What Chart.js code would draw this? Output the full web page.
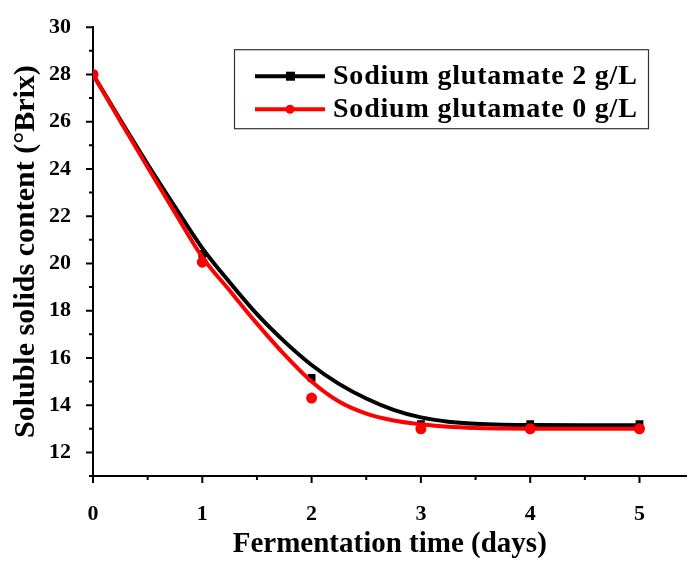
<!DOCTYPE html>
<html>
<head>
<meta charset="utf-8">
<script src="https://cdn.jsdelivr.net/npm/chart.js@4.4.1/dist/chart.umd.min.js"></script>
<style>
  html, body { margin: 0; padding: 0; background: #fff; }
  #wrap { width: 692px; height: 562px; }
</style>
</head>
<body>
<div id="wrap"><canvas id="brix"></canvas></div>
<script>
// measured points (days, °Brix)
const days = [0, 1, 2, 3, 4, 5];
const glu2 = [28.0, 20.4, 15.15, 13.2, 13.2, 13.2];
const glu0 = [28.0, 20.05, 14.3, 13.0, 13.0, 13.0];

// fitted curves
const fitDays = [0, 0.25, 0.5, 0.75, 1, 1.25, 1.5, 1.75, 2, 2.25, 2.5, 2.75, 3, 3.25, 3.5, 3.75, 4, 4.5, 5];
const fit2 = [28.0, 26.08, 24.2, 22.4, 20.65, 19.2, 17.85, 16.7, 15.7, 14.9, 14.28, 13.8, 13.48, 13.3, 13.21, 13.17, 13.16, 13.15, 13.15];
const fit0 = [28.0, 26.02, 24.07, 22.15, 20.27, 18.85, 17.45, 16.15, 15.0, 14.15, 13.64, 13.35, 13.19, 13.08, 13.03, 13.01, 13.0, 13.0, 13.0];

const seriesNames = ["Sodium glutamate 2 g/L", "Sodium glutamate 0 g/L"];
const seriesColors = ["#000000", "#ff0000"];

const serif = "'Liberation Serif', 'Times New Roman', serif";

function pts(xs, ys) {
    return xs.map((x, i) => ({x: x, y: ys[i]}));
}

// outward major / minor ticks
const tickMarks = {
    id: "tickMarks",
    afterDraw(chart) {
        const ctx = chart.ctx;
        const xs = chart.scales.x, ys = chart.scales.y;
        ctx.save();
        ctx.strokeStyle = "#000";
        ctx.lineWidth = 2;
        ctx.beginPath();
        for (const t of xs.ticks) {
            var px = xs.getPixelForValue(t.value);
            var len = Number.isInteger(t.value) ? 7 : 4;
            ctx.moveTo(px, xs.top);
            ctx.lineTo(px, xs.top + len);
        }
        for (const t of ys.ticks) {
            var py = ys.getPixelForValue(t.value);
            var len = (t.value % 2 == 0) ? 7 : 4;
            ctx.moveTo(ys.right, py);
            ctx.lineTo(ys.right - len, py);
        }
        ctx.stroke();
        ctx.restore();
    }
};

// boxed legend inside the plot, top right
const boxLegend = {
    id: "boxLegend",
    afterDraw(chart) {
        const ctx = chart.ctx;
        const right = chart.width - 44, top = chart.chartArea.top + 22;
        const w = 414, h = 79;
        const left = right - w;
        ctx.save();
        ctx.fillStyle = "#fff";
        ctx.fillRect(left, top, w, h);
        ctx.strokeStyle = "#333";
        ctx.lineWidth = 1.2;
        ctx.strokeRect(left + 0.5, top + 0.5, w, h);
        ctx.font = "bold 28px " + serif;
        ctx.letterSpacing = "0.8px";
        ctx.textBaseline = "middle";
        for (var i = 0; i < seriesNames.length; i++) {
            var y = top + 27 + i * 33;
            ctx.strokeStyle = seriesColors[i];
            ctx.lineWidth = 4;
            ctx.beginPath();
            ctx.moveTo(left + 21, y);
            ctx.lineTo(left + 91, y);
            ctx.stroke();
            ctx.fillStyle = seriesColors[i];
            if (i == 0) {
                ctx.fillRect(left + 52, y - 4.5, 9, 9);
            } else {
                ctx.beginPath();
                ctx.arc(left + 56, y, 4.5, 0, Math.PI * 2);
                ctx.fill();
            }
            ctx.fillStyle = "#000";
            ctx.fillText(seriesNames[i], left + 99, y + 1);
        }
        ctx.restore();
    }
};

new Chart("brix", {
    type: "scatter",
    data: {
        datasets: [
            {
                label: seriesNames[0] + " fit",
                data: pts(fitDays, fit2),
                showLine: true,
                borderColor: seriesColors[0],
                borderWidth: 4,
                pointRadius: 0,
                cubicInterpolationMode: "monotone",
                order: 4
            },
            {
                label: seriesNames[1] + " fit",
                data: pts(fitDays, fit0),
                showLine: true,
                borderColor: seriesColors[1],
                borderWidth: 4,
                pointRadius: 0,
                cubicInterpolationMode: "monotone",
                order: 2
            },
            {
                label: seriesNames[0],
                data: pts(days, glu2),
                pointStyle: "rect",
                pointRadius: 5.5,
                backgroundColor: seriesColors[0],
                borderColor: seriesColors[0],
                borderWidth: 0,
                order: 3
            },
            {
                label: seriesNames[1],
                data: pts(days, glu0),
                pointStyle: "circle",
                pointRadius: 5.5,
                backgroundColor: seriesColors[1],
                borderColor: seriesColors[1],
                borderWidth: 0,
                order: 1
            }
        ]
    },
    options: {
        responsive: true,
        maintainAspectRatio: false,
        animation: false,
        layout: {padding: {top: 23, right: 0, left: 0, bottom: 0}},
        plugins: {
            legend: {display: false},
            tooltip: {enabled: false}
        },
        scales: {
            x: {
                type: "linear",
                min: 0,
                max: 5.43,
                afterBuildTicks: function(scale) {
                    var t = [];
                    for (var v = 0; v <= 5.001; v += 0.5) t.push({value: Math.round(v * 10) / 10});
                    scale.ticks = t;
                },
                afterFit: function(scale) { scale.height = 86; },
                grid: {display: false},
                border: {display: true, color: "#000", width: 2},
                ticks: {
                    autoSkip: false,
                    maxRotation: 0,
                    padding: 17,
                    color: "#000",
                    font: {family: serif, weight: "bold", size: 22},
                    callback: v => Number.isInteger(v) ? v : ""
                },
                title: {
                    display: true,
                    text: "Fermentation time (days)",
                    color: "#000",
                    font: {family: serif, weight: "bold", size: 29},
                    padding: {top: 0, bottom: 0}
                }
            },
            y: {
                type: "linear",
                min: 11,
                max: 30,
                afterBuildTicks: function(scale) {
                    var t = [];
                    for (var v = 11; v <= 30; v++) t.push({value: v});
                    scale.ticks = t;
                },
                afterFit: function(scale) { scale.width = 93; },
                grid: {display: false},
                border: {display: true, color: "#000", width: 2},
                ticks: {
                    autoSkip: false,
                    padding: 14,
                    color: "#000",
                    font: {family: serif, weight: "bold", size: 22},
                    callback: v => (v % 2 == 0) ? v : ""
                },
                title: {
                    display: true,
                    text: "Soluble solids content (°Brix)",
                    color: "#000",
                    font: {family: serif, weight: "bold", size: 30},
                    padding: {top: 8, bottom: 0}
                }
            }
        }
    },
    plugins: [tickMarks, boxLegend]
});
</script>
</body>
</html>
